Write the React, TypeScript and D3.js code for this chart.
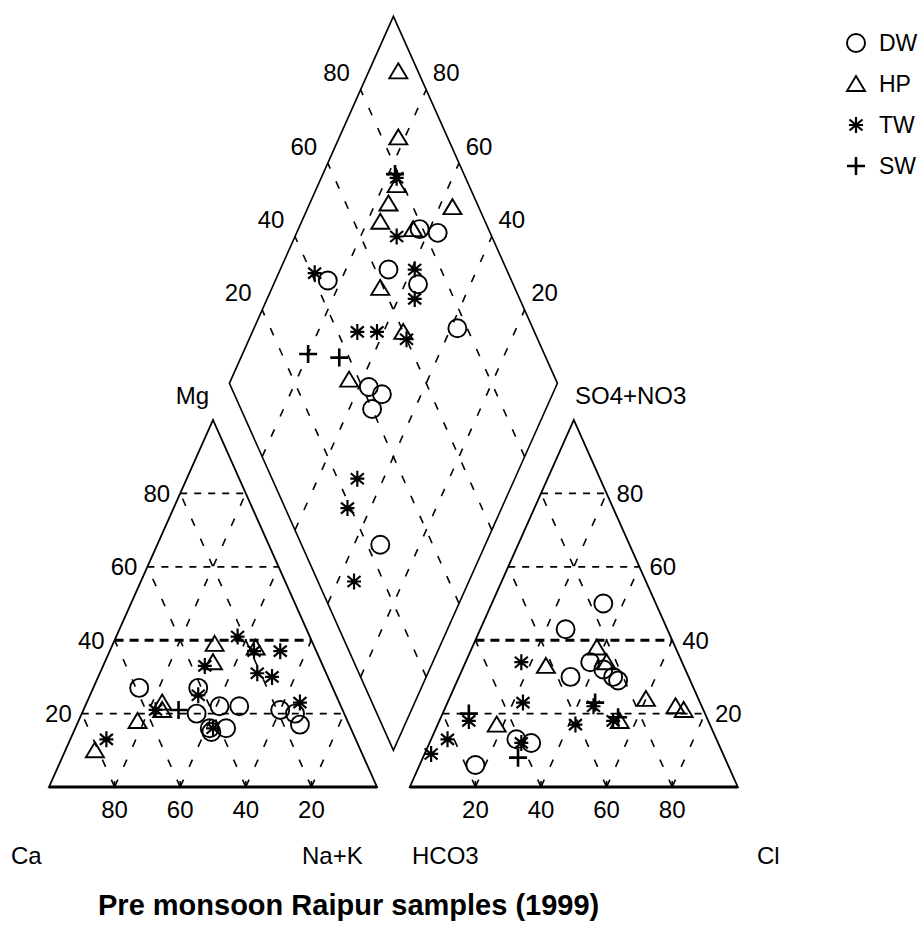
import React from 'react';
import * as d3 from 'd3';

// Sample groups
const SERIES = ['DW', 'HP', 'TW', 'SW'];

// Cation triangle: [Ca %, Mg %]  (Na+K = 100 - Ca - Mg)
const dwCations = [[59, 27], [41, 27], [45, 20], [37, 22], [43, 16], [38, 16], [31, 22], [19, 21], [15, 20], [15, 17], [43, 15]];
const hpCations = [[81, 10], [64, 18], [54, 23], [55, 21], [30, 39], [18, 38], [33, 34]];
const twCations = [[76, 13], [57, 21], [42, 25], [22, 41], [19, 37], [11, 37], [21, 31], [17, 30], [36, 33], [12, 23], [42, 16]];
const swCations = [[50, 21]];

// Anion triangle: [Cl %, SO4+NO3 %]  (HCO3 = 100 - Cl - SO4)
const dwAnions = [[34, 50], [26, 43], [34, 30], [38, 34], [43, 32], [49, 29], [47, 30], [17, 6], [26, 13], [31, 12]];
const hpAnions = [[25, 33], [38, 38], [43, 34], [60, 24], [70, 22], [73, 21], [55, 18], [18, 17]];
const twAnions = [[17, 34], [45, 22], [53, 18], [23, 23], [42, 17], [9, 18], [5, 13], [2, 9], [28, 12]];
const swAnions = [[45, 23], [54, 19], [8, 20], [29, 8]];

// Diamond: [Ca+Mg %, SO4+Cl %]
const dwDiamond = [[63, 79], [57, 84], [67, 64], [56, 71], [84, 44], [38, 77], [57, 42], [52, 45], [53, 40], [32, 24]];
const hpDiamond = [[91, 94], [82, 85], [76, 78], [76, 73], [76, 68], [56, 92], [65, 77], [67, 59], [54, 60], [64, 37]];
const twDiamond = [[77, 79], [69, 71], [59, 72], [55, 68], [89, 41], [68, 46], [62, 52], [52, 60], [48, 26], [47, 19], [35, 11]];
const swDiamond = [[78, 79], [80, 28], [70, 37]];

const gridTicks = [20, 40, 60, 80];

const cationSets = { DW: dwCations, HP: hpCations, TW: twCations, SW: swCations };
const anionSets = { DW: dwAnions, HP: hpAnions, TW: twAnions, SW: swAnions };
const diamondSets = { DW: dwDiamond, HP: hpDiamond, TW: twDiamond, SW: swDiamond };

// Layout in unit-triangle space (side 1, gap between triangles GAP)
const GAP = 0.1;
const H = Math.sqrt(3) / 2;
const x = d3.scaleLinear().domain([0, 2 + GAP]).range([49, 49 + 328 * (2 + GAP)]);
const y = d3.scaleLinear().domain([0, H]).range([787, 420]);

type Pt = [number, number];

function cation(ca: number, mg: number): Pt {
  const na = 100 - ca - mg;
  return [x((na + mg / 2) / 100), y((mg / 100) * H)];
}
function anion(cl: number, so4: number): Pt {
  return [x(1 + GAP + (cl + so4 / 2) / 100), y((so4 / 100) * H)];
}
function diamond(caMg: number, so4cl: number): Pt {
  const n = 1 - caMg / 100;
  const b = 1 - so4cl / 100;
  const t = 2 + GAP - n - b;
  return [x(n + t / 2), y(t * H)];
}

const FONT = '"Liberation Sans", Arial, sans-serif';
const line = d3.line();

function Marker({ kind, p }: { kind: string; p: Pt }) {
  const [cx, cy] = p;
  const s = { fill: 'none', stroke: '#000', strokeWidth: 1.9 };
  if (kind === 'DW') return <circle cx={cx} cy={cy} r={9} {...s} />;
  if (kind === 'HP')
    return <path d={`M${cx},${cy - 8}L${cx + 9},${cy + 7}L${cx - 9},${cy + 7}Z`} {...s} />;
  if (kind === 'TW')
    return (
      <path
        d={`M${cx},${cy - 8}V${cy + 8}M${cx - 7},${cy}H${cx + 7}M${cx - 6.5},${cy - 5.5}L${cx + 6.5},${cy + 5.5}M${cx - 6.5},${cy + 5.5}L${cx + 6.5},${cy - 5.5}`}
        {...s}
        strokeWidth={2.2}
      />
    );
  return <path d={`M${cx - 9},${cy}H${cx + 9}M${cx},${cy - 9}V${cy + 9}`} {...s} strokeWidth={2.6} />;
}

function Grid({ segs }: { segs: { a: Pt; b: Pt; heavy?: boolean; diag?: boolean }[] }) {
  return (
    <g fill="none" stroke="#000">
      {segs.map((sg, i) => (
        <path
          key={i}
          d={line([sg.a, sg.b]) || ''}
          strokeWidth={sg.heavy ? 3 : sg.diag ? 1.6 : 1.8}
          strokeDasharray={sg.heavy ? '9,6' : sg.diag ? '8,14' : '7,7'}
        />
      ))}
    </g>
  );
}

export default function App() {
  const catSegs = gridTicks.flatMap((k) => [
    { a: cation(100 - k, k), b: cation(0, k), heavy: k === 40 },
    { a: cation(k, 0), b: cation(k, 100 - k), diag: true },
    { a: cation(100 - k, 0), b: cation(0, 100 - k), diag: true },
  ]);
  const anSegs = gridTicks.flatMap((k) => [
    { a: anion(0, k), b: anion(100 - k, k), heavy: k === 40 },
    { a: anion(k, 0), b: anion(k, 100 - k), diag: true },
    { a: anion(100 - k, 0), b: anion(0, 100 - k), diag: true },
  ]);
  const diaSegs = gridTicks.flatMap((k) => [
    { a: diamond(k, 0), b: diamond(k, 100), diag: true },
    { a: diamond(0, k), b: diamond(100, k), diag: true },
  ]);

  const catOutline = [cation(100, 0), cation(0, 0), cation(0, 100)];
  const anOutline = [anion(0, 0), anion(100, 0), anion(0, 100)];
  const diaOutline = [diamond(0, 0), diamond(100, 0), diamond(100, 100), diamond(0, 100)];

  const textStyle = { fontFamily: FONT, fontSize: 24, fill: '#000' };
  const legendY = d3.scalePoint().domain(SERIES).range([43, 166]);

  return (
    <svg
      width={924}
      height={929}
      style={{ position: 'absolute', left: 0, top: 0, background: '#fff' }}
    >
      <rect width={924} height={929} fill="#fff" />
      <Grid segs={catSegs} />
      <Grid segs={anSegs} />
      <Grid segs={diaSegs} />

      {/* small ticks at the base of each triangle */}
      <g stroke="#000" strokeWidth={1.6}>
        {gridTicks.map((k) => {
          const [cx, cy] = cation(k, 0);
          const [ax, ay] = anion(k, 0);
          return (
            <g key={k}>
              <line x1={cx} x2={cx} y1={cy} y2={cy - 6} />
              <line x1={ax} x2={ax} y1={ay} y2={ay - 6} />
            </g>
          );
        })}
      </g>

      <g fill="none" stroke="#000" strokeWidth={1.8} strokeLinejoin="miter">
        <path d={(line(catOutline) || '') + 'Z'} />
        <path d={(line(anOutline) || '') + 'Z'} />
        <path d={(line(diaOutline) || '') + 'Z'} strokeWidth={1.6} />
        <path d={line([cation(100, 0), cation(0, 0)]) || ''} strokeWidth={3} />
        <path d={line([anion(0, 0), anion(100, 0)]) || ''} strokeWidth={3} />
      </g>

      {/* samples */}
      {SERIES.map((s) => (
        <g key={s}>
          {cationSets[s].map((d, i) => (
            <Marker key={'c' + i} kind={s} p={cation(d[0], d[1])} />
          ))}
          {anionSets[s].map((d, i) => (
            <Marker key={'a' + i} kind={s} p={anion(d[0], d[1])} />
          ))}
          {diamondSets[s].map((d, i) => (
            <Marker key={'d' + i} kind={s} p={diamond(d[0], d[1])} />
          ))}
        </g>
      ))}

      {/* tick labels */}
      <g {...textStyle}>
        {gridTicks.map((k) => {
          const l = cation(100 - k, k);
          const bc = cation(k, 0);
          const r = anion(100 - k, k);
          const ba = anion(k, 0);
          const dl = diamond(100, k);
          const dr = diamond(k, 100);
          return (
            <g key={k}>
              <text x={l[0] - 10} y={l[1]} dy="0.35em" textAnchor="end">{k}</text>
              <text x={bc[0]} y={bc[1] + 31} textAnchor="middle">{k}</text>
              <text x={r[0] + 10} y={r[1]} dy="0.35em" textAnchor="start">{k}</text>
              <text x={ba[0]} y={ba[1] + 31} textAnchor="middle">{k}</text>
              <text x={dl[0] - 24} y={dl[1] - 17} dy="0.35em" textAnchor="middle">{k}</text>
              <text x={dr[0] + 20} y={dr[1] - 17} dy="0.35em" textAnchor="middle">{k}</text>
            </g>
          );
        })}
      </g>

      {/* vertex labels */}
      <g {...textStyle}>
        <text x={209} y={404} textAnchor="end">Mg</text>
        <text x={575} y={404}>SO4+NO3</text>
        <text x={11} y={864}>Ca</text>
        <text x={302} y={864}>Na+K</text>
        <text x={412} y={864}>HCO3</text>
        <text x={757} y={864}>Cl</text>
      </g>

      <text x={98} y={915} fontFamily={FONT} fontSize={29} fontWeight="bold">
        Pre monsoon Raipur samples (1999)
      </text>

      {/* legend */}
      <g>
        {SERIES.map((s) => (
          <g key={s}>
            <Marker kind={s} p={[856, legendY(s) as number]} />
            <text x={879} y={legendY(s)} dy="0.35em" fontFamily={FONT} fontSize={23}>
              {s}
            </text>
          </g>
        ))}
      </g>
    </svg>
  );
}
